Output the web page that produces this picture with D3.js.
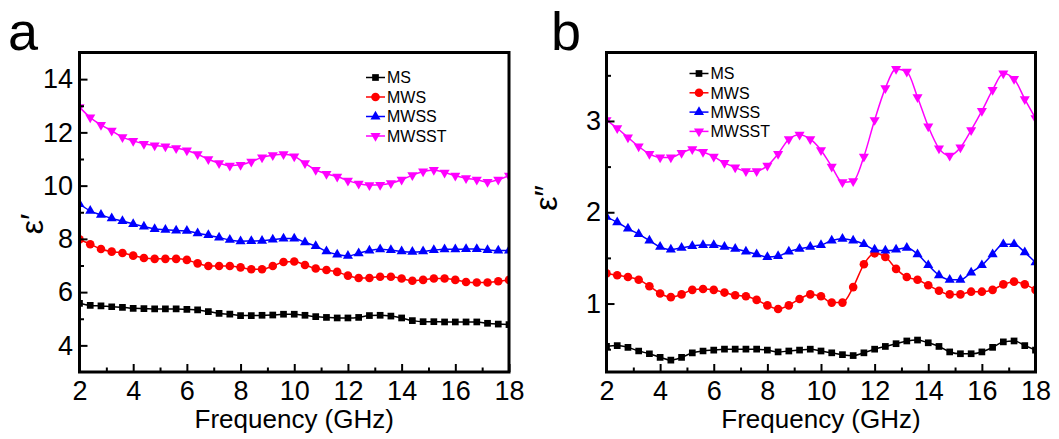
<!DOCTYPE html>
<html>
<head>
<meta charset="utf-8">
<script src="https://cdn.jsdelivr.net/npm/d3@7"></script>
<style>
  html, body { margin: 0; padding: 0; background: #fff; }
  svg { display: block; }
  text { font-family: "Liberation Sans", Arial, Helvetica, sans-serif; }
</style>
</head>
<body>
<svg id="chart" width="1059" height="439"></svg>
<script>
// Frequency points (GHz)
const freq = [2.0, 2.4, 2.8, 3.2, 3.6, 4.0, 4.4, 4.8, 5.2, 5.6, 6.0, 6.4, 6.8, 7.2, 7.6, 8.0,
  8.4, 8.8, 9.2, 9.6, 10.0, 10.4, 10.8, 11.2, 11.6, 12.0, 12.4, 12.8, 13.2, 13.6, 14.0,
  14.4, 14.8, 15.2, 15.6, 16.0, 16.4, 16.8, 17.2, 17.6, 18.0];

const seriesNames = ["MS", "MWS", "MWSS", "MWSST"];
const seriesColors = ["#000000", "#ff0000", "#0000ff", "#ff00ff"];

// Real permittivity ε′
const msReal = [5.58, 5.50, 5.48, 5.45, 5.43, 5.39, 5.38, 5.37, 5.37, 5.37, 5.35, 5.33, 5.27, 5.20,
  5.17, 5.12, 5.12, 5.13, 5.14, 5.17, 5.17, 5.13, 5.08, 5.05, 5.03, 5.03, 5.05, 5.12, 5.13, 5.10,
  5.03, 4.93, 4.89, 4.89, 4.88, 4.88, 4.88, 4.88, 4.83, 4.80, 4.78];
const mwsReal = [7.98, 7.80, 7.62, 7.52, 7.47, 7.37, 7.28, 7.25, 7.25, 7.25, 7.21, 7.08, 6.98, 6.98,
  6.98, 6.93, 6.86, 6.86, 6.98, 7.13, 7.15, 7.02, 6.89, 6.83, 6.76, 6.62, 6.53, 6.53, 6.58, 6.58,
  6.51, 6.43, 6.46, 6.51, 6.51, 6.46, 6.38, 6.36, 6.36, 6.41, 6.46];
const mwssReal = [9.31, 9.05, 8.90, 8.77, 8.67, 8.56, 8.46, 8.37, 8.34, 8.31, 8.30, 8.21, 8.14, 8.05,
  7.96, 7.91, 7.92, 7.93, 7.97, 8.01, 8.01, 7.87, 7.73, 7.53, 7.41, 7.36, 7.46, 7.56, 7.61, 7.58,
  7.53, 7.51, 7.53, 7.58, 7.61, 7.61, 7.62, 7.62, 7.58, 7.56, 7.56];
const mwsstReal = [12.95, 12.56, 12.28, 12.06, 11.82, 11.68, 11.57, 11.51, 11.47, 11.41, 11.32, 11.18,
  10.99, 10.84, 10.75, 10.78, 10.90, 11.06, 11.14, 11.18, 11.10, 10.84, 10.59, 10.44, 10.34, 10.19,
  10.07, 10.02, 10.03, 10.09, 10.22, 10.39, 10.53, 10.59, 10.49, 10.37, 10.28, 10.22, 10.14, 10.22, 10.37];

// Imaginary permittivity ε″
const msImag = [0.53, 0.54, 0.52, 0.48, 0.45, 0.41, 0.38, 0.41, 0.46, 0.48, 0.49, 0.50, 0.50, 0.50,
  0.50, 0.49, 0.47, 0.48, 0.49, 0.50, 0.48, 0.46, 0.44, 0.43, 0.46, 0.50, 0.53, 0.56, 0.59, 0.60,
  0.57, 0.53, 0.47, 0.45, 0.45, 0.47, 0.52, 0.58, 0.59, 0.54, 0.49];
const mwsImag = [1.33, 1.31, 1.29, 1.26, 1.19, 1.11, 1.07, 1.10, 1.15, 1.16, 1.15, 1.12, 1.09, 1.08,
  1.04, 0.98, 0.94, 0.98, 1.05, 1.10, 1.08, 1.01, 1.01, 1.18, 1.43, 1.55, 1.51, 1.38, 1.29, 1.26,
  1.20, 1.14, 1.10, 1.10, 1.13, 1.13, 1.15, 1.21, 1.24, 1.21, 1.15];
const mwssImag = [1.95, 1.89, 1.82, 1.76, 1.69, 1.62, 1.59, 1.61, 1.63, 1.64, 1.64, 1.62, 1.60, 1.57,
  1.54, 1.51, 1.52, 1.57, 1.60, 1.62, 1.64, 1.69, 1.71, 1.69, 1.65, 1.59, 1.58, 1.59, 1.61, 1.54,
  1.42, 1.31, 1.26, 1.26, 1.34, 1.42, 1.54, 1.65, 1.65, 1.56, 1.45];
const mwsstImag = [3.01, 2.92, 2.82, 2.72, 2.64, 2.60, 2.60, 2.65, 2.69, 2.66, 2.61, 2.54, 2.49, 2.45,
  2.45, 2.51, 2.64, 2.80, 2.85, 2.80, 2.68, 2.50, 2.33, 2.34, 2.61, 3.01, 3.36, 3.57, 3.54, 3.26,
  2.94, 2.70, 2.62, 2.71, 2.90, 3.11, 3.34, 3.52, 3.46, 3.24, 3.03];

// Tick values
const xTicks = [2, 4, 6, 8, 10, 12, 14, 16, 18];
const xMinorTicks = [3, 5, 7, 9, 11, 13, 15, 17];
const realTicks = [4, 6, 8, 10, 12, 14];
const realMinorTicks = [5, 7, 9, 11, 13];
const imagTicks = [1, 2, 3];
const imagMinorTicks = [0.5, 1.5, 2.5, 3.5];

const FONT = '"Liberation Sans", Arial, Helvetica, sans-serif';
const svg = d3.select("#chart");
svg.append("rect").attr("width", 1059).attr("height", 439).attr("fill", "#fff");
const defs = svg.append("defs");

// Marker shapes: square, circle, up-triangle, down-triangle
const symbolPaths = [
  d3.symbol(d3.symbolSquare, 45)(),
  d3.symbol(d3.symbolCircle, 58)(),
  d3.symbol(d3.symbolTriangle, 44)(),
  d3.symbol(d3.symbolTriangle, 44)()
];
const symbolRotate = [0, 0, 0, 180];

function styleAxis(a, fontSize) {
  a.select(".domain").remove();
  a.attr("font-family", FONT).attr("font-size", fontSize);
  a.selectAll("line").attr("stroke", "#000").attr("stroke-width", 2);
  a.selectAll("text").attr("fill", "#000");
}

function drawPanel(p) {
  const g = svg.append("g");
  const x = d3.scaleLinear().domain([2, 18]).range([p.left, p.right]);
  const y = d3.scaleLinear().domain(p.yDomain).range([p.bottom, p.top]);

  defs.append("clipPath").attr("id", "clip-" + p.id)
    .append("rect")
    .attr("x", p.left).attr("y", p.top)
    .attr("width", p.right - p.left).attr("height", p.bottom - p.top);

  const plot = g.append("g").attr("clip-path", `url(#clip-${p.id})`);
  const line = d3.line()
    .x((d, i) => x(freq[i]))
    .y(d => y(d))
    .curve(d3.curveMonotoneX);

  p.series.forEach((vals, k) => {
    plot.append("path")
      .attr("d", line(vals))
      .attr("fill", "none")
      .attr("stroke", seriesColors[k])
      .attr("stroke-width", 1.5);
    plot.append("g").selectAll("path")
      .data(vals)
      .join("path")
      .attr("transform", (d, i) => `translate(${x(freq[i])},${y(d)}) rotate(${symbolRotate[k]})`)
      .attr("d", symbolPaths[k])
      .attr("fill", seriesColors[k]);
  });

  // Bottom axis: major ticks with labels, minor ticks without
  g.append("g")
    .attr("transform", `translate(0,${p.bottom})`)
    .call(d3.axisBottom(x).tickValues(xTicks).tickSize(-8).tickPadding(9).tickFormat(d3.format("d")))
    .call(a => styleAxis(a, 27));
  g.append("g")
    .attr("transform", `translate(0,${p.bottom})`)
    .call(d3.axisBottom(x).tickValues(xMinorTicks).tickSize(-4.5).tickFormat(""))
    .call(a => styleAxis(a, 27));

  // Left axis
  g.append("g")
    .attr("transform", `translate(${p.left},0)`)
    .call(d3.axisLeft(y).tickValues(p.yTicks).tickSize(-8).tickPadding(p.yPad).tickFormat(d3.format("d")))
    .call(a => styleAxis(a, 27));
  g.append("g")
    .attr("transform", `translate(${p.left},0)`)
    .call(d3.axisLeft(y).tickValues(p.yMinor).tickSize(-4.5).tickFormat(""))
    .call(a => styleAxis(a, 27));

  // Frame
  g.append("rect")
    .attr("x", p.left).attr("y", p.top)
    .attr("width", p.right - p.left).attr("height", p.bottom - p.top)
    .attr("fill", "none").attr("stroke", "#000").attr("stroke-width", 3);

  // Axis titles
  g.append("text")
    .attr("x", (p.left + p.right) / 2).attr("y", 428)
    .attr("text-anchor", "middle")
    .attr("font-size", 26).attr("fill", "#000")
    .text("Frequency (GHz)");
  g.append("text")
    .attr("transform", `translate(${p.yLabelX},${p.yLabelY}) rotate(-90)`)
    .attr("text-anchor", "middle")
    .attr("font-size", 32).attr("fill", "#000")
    .text(p.yLabel);

  // Panel letter
  g.append("text")
    .attr("x", p.letterX).attr("y", p.letterY)
    .attr("font-size", 54).attr("fill", "#000")
    .text(p.letter);

  // Legend
  const lg = g.append("g");
  seriesNames.forEach((name, k) => {
    const ly = p.legendY + k * p.legendStep;
    lg.append("line")
      .attr("x1", p.legendX).attr("x2", p.legendX + 19)
      .attr("y1", ly).attr("y2", ly)
      .attr("stroke", seriesColors[k]).attr("stroke-width", 1.5);
    lg.append("path")
      .attr("transform", `translate(${p.legendX + 9.5},${ly}) rotate(${symbolRotate[k]})`)
      .attr("d", symbolPaths[k])
      .attr("fill", seriesColors[k]);
    lg.append("text")
      .attr("x", p.legendX + 21).attr("y", ly + 5.8)
      .attr("font-size", 16).attr("fill", "#000")
      .text(name);
  });
}

drawPanel({
  id: "a", letter: "a", letterX: 8, letterY: 50,
  left: 79.5, right: 509, top: 52.5, bottom: 372,
  yDomain: [3, 15], yTicks: realTicks, yMinor: realMinorTicks, yPad: 6.5,
  series: [msReal, mwsReal, mwssReal, mwsstReal],
  yLabel: "ε′", yLabelX: 43, yLabelY: 224,
  legendX: 366, legendY: 77.5, legendStep: 19.5
});

drawPanel({
  id: "b", letter: "b", letterX: 551, letterY: 50,
  left: 606.5, right: 1035.5, top: 52.5, bottom: 372,
  yDomain: [0.25, 3.75], yTicks: imagTicks, yMinor: imagMinorTicks, yPad: 5.5,
  series: [msImag, mwsImag, mwssImag, mwsstImag],
  yLabel: "ε″", yLabelX: 557, yLabelY: 198,
  legendX: 689.5, legendY: 73.5, legendStep: 19.3
});
</script>
</body>
</html>
